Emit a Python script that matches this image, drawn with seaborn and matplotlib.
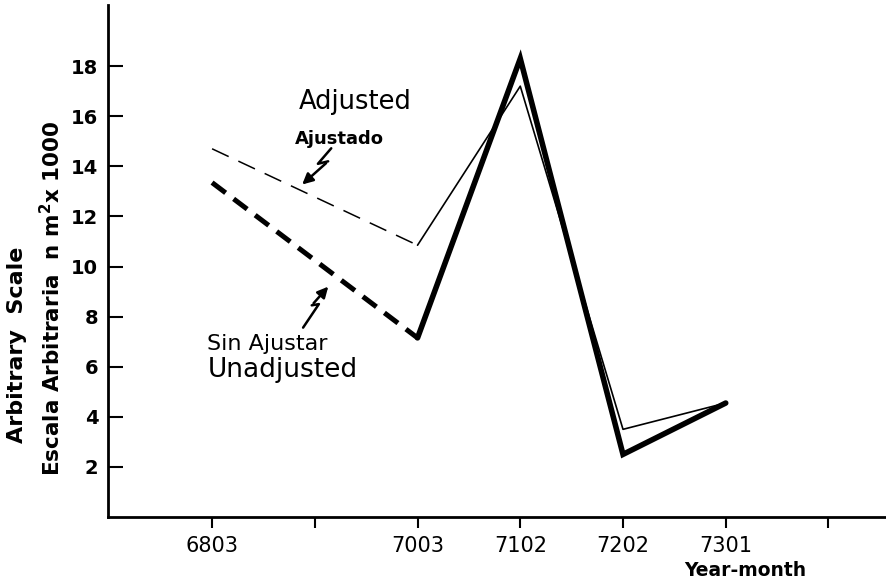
import matplotlib
matplotlib.use('Agg')
import matplotlib.pyplot as plt
import pandas as pd
import seaborn as sns

# Periodos (año-mes) y ticks del eje x, incluidos los ticks sin etiqueta
tick_labels = ['6803', '', '7003', '7102', '7202', '7301', '']
periods = ['6803', '7003', '7102', '7202', '7301']

# Valores (escala arbitraria, n m2 x 1000)
adjusted = [14.7, 10.85, 17.2, 3.5, 4.55]
unadjusted = [13.35, 7.15, 18.3, 2.5, 4.55]

yticks = [2, 4, 6, 8, 10, 12, 14, 16, 18]

df = pd.DataFrame({
    'pos': [tick_labels.index(p) for p in periods],
    'adjusted': adjusted,
    'unadjusted': unadjusted,
})

sns.set_style('ticks')
plt.rcParams['font.family'] = ['DejaVu Sans']
plt.rcParams['mathtext.default'] = 'regular'
for k in ['text.color', 'axes.edgecolor', 'xtick.color', 'ytick.color',
          'axes.labelcolor']:
    plt.rcParams[k] = 'black'

fig = plt.figure(figsize=(8.86, 5.86), dpi=100)
ax = fig.add_axes([108 / 886, 1 - 517 / 586, 778 / 886, 512 / 586])

# primer tramo punteado, el resto continuo
dashed = df.iloc[:2]
solid = df.iloc[1:]

sns.lineplot(data=dashed, x='pos', y='adjusted', ax=ax, color='black', lw=1.1,
             linestyle=(0, (12, 7)), sort=False, estimator=None)
sns.lineplot(data=solid, x='pos', y='adjusted', ax=ax, color='black', lw=1.2,
             sort=False, estimator=None)
sns.lineplot(data=dashed, x='pos', y='unadjusted', ax=ax, color='black', lw=3.6,
             linestyle=(0, (3.4, 2.0)), sort=False, estimator=None,
             dash_capstyle='butt')
sns.lineplot(data=solid, x='pos', y='unadjusted', ax=ax, color='black', lw=4.0,
             sort=False, estimator=None, solid_joinstyle='miter')

ax.set_xlim(-1.013, 6.56)
ax.set_ylim(0, 20.44)
ax.set_xticks(range(len(tick_labels)))
ax.set_xticklabels(tick_labels, fontsize=15)
ax.set_yticks(yticks)
ax.set_yticklabels([str(v) for v in yticks], fontsize=14, fontweight='bold')
ax.tick_params(axis='y', direction='in', length=11, width=1.5, pad=7)
ax.tick_params(axis='x', direction='out', length=8, width=1.5, pad=6)
ax.set_xlabel('')
ax.set_ylabel('')
sns.despine(ax=ax)
for s in ['left', 'bottom']:
    ax.spines[s].set_linewidth(2)

# etiquetas de las series
ax.text(0.84, 16.3, 'Adjusted', fontsize=18.5, ha='left', va='baseline')
ax.text(0.81, 14.9, 'Ajustado', fontsize=13, fontweight='bold', ha='left', va='baseline')
ax.text(-0.05, 6.68, 'Sin Ajustar', fontsize=16, ha='left', va='baseline')
ax.text(-0.04, 5.6, 'Unadjusted', fontsize=19, ha='left', va='baseline')

# flechas en zigzag
ax.plot([1.16, 1.03, 1.13], [14.72, 14.1, 14.2], color='black', lw=1.8)
ax.annotate('', xy=(0.857, 13.2), xytext=(1.13, 14.2),
            arrowprops=dict(arrowstyle='-|>', color='black', lw=1.8, mutation_scale=16))
ax.plot([0.886, 1.04, 0.97], [7.56, 8.5, 8.45], color='black', lw=1.8)
ax.annotate('', xy=(1.149, 9.28), xytext=(0.97, 8.45),
            arrowprops=dict(arrowstyle='-|>', color='black', lw=1.8, mutation_scale=16))

fig.text(17 / 886, 1 - 345 / 586, 'Arbitrary  Scale', rotation=90, fontsize=16,
         fontweight='bold', ha='center', va='center')
fig.text(52 / 886, 1 - 298 / 586, r'Escala Arbitraria  n m$^{2}$x 1000', rotation=90,
         fontsize=15.5, fontweight='bold', ha='center', va='center')
fig.text(745 / 886, 1 - 570 / 586, 'Year-month', fontsize=13.5, fontweight='bold',
         ha='center', va='center')

fig.savefig('out.png', dpi=100)
